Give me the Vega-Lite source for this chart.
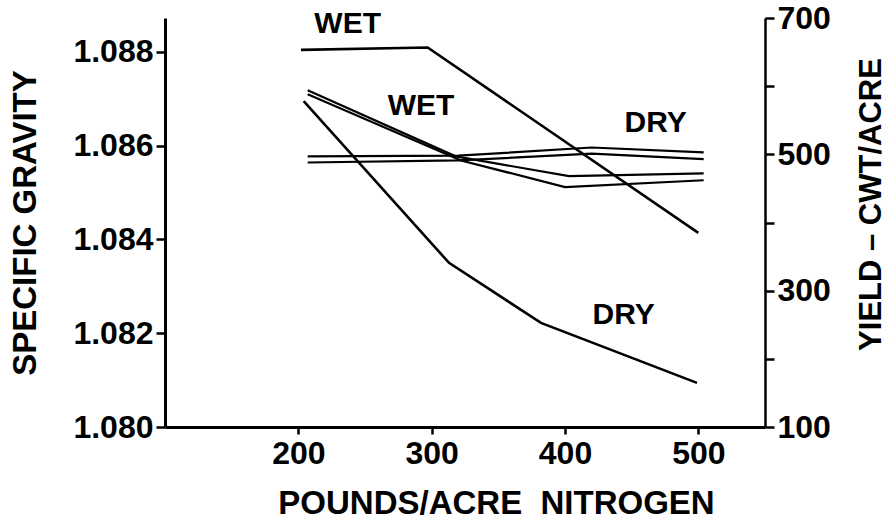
{
  "$schema": "https://vega.github.io/schema/vega-lite/v6.json",
  "width": 600,
  "height": 409,
  "autosize": {"type": "none"},
  "padding": {"left": 165, "top": 18, "right": 125, "bottom": 92},
  "background": "white",
  "config": {
    "view": {"stroke": null},
    "font": "Liberation Sans",
    "axis": {
      "grid": false,
      "domainColor": "black",
      "tickColor": "black",
      "labelColor": "black",
      "titleColor": "black",
      "labelFont": "Liberation Sans",
      "titleFont": "Liberation Sans",
      "labelFontWeight": "bold",
      "titleFontWeight": "bold",
      "domainWidth": 3,
      "tickWidth": 2.5,
      "tickSize": 8,
      "labelFontSize": 32
    }
  },
  "datasets": {
    "sg": [
      {"series": "SG WET", "n": 202, "v": 1.08804},
      {"series": "SG WET", "n": 297, "v": 1.08809},
      {"series": "SG WET", "n": 500, "v": 1.08414},
      {"series": "SG DRY", "n": 204, "v": 1.08695},
      {"series": "SG DRY", "n": 313, "v": 1.0835},
      {"series": "SG DRY", "n": 382, "v": 1.08222},
      {"series": "SG DRY", "n": 499, "v": 1.08094}
    ],
    "yield": [
      {"series": "WET a", "n": 207, "v": 594},
      {"series": "WET a", "n": 318, "v": 497},
      {"series": "WET a", "n": 403, "v": 468},
      {"series": "WET a", "n": 504, "v": 472},
      {"series": "WET b", "n": 207, "v": 588},
      {"series": "WET b", "n": 322, "v": 491},
      {"series": "WET b", "n": 400, "v": 452},
      {"series": "WET b", "n": 504, "v": 462},
      {"series": "DRY a", "n": 207, "v": 497},
      {"series": "DRY a", "n": 320, "v": 498},
      {"series": "DRY a", "n": 420, "v": 510},
      {"series": "DRY a", "n": 504, "v": 503},
      {"series": "DRY b", "n": 207, "v": 488},
      {"series": "DRY b", "n": 320, "v": 491},
      {"series": "DRY b", "n": 420, "v": 501},
      {"series": "DRY b", "n": 504, "v": 493}
    ],
    "labels": [
      {"text": "WET", "n": 237, "v": 1.0886},
      {"text": "WET", "n": 292, "v": 1.08685},
      {"text": "DRY", "n": 468, "v": 1.08649},
      {"text": "DRY", "n": 444, "v": 1.08239}
    ]
  },
  "layer": [
    {
      "layer": [
        {
          "data": {"name": "sg"},
          "mark": {"type": "line", "color": "black", "strokeWidth": 2.6},
          "encoding": {
            "x": {
              "field": "n", "type": "quantitative",
              "scale": {"domain": [100, 550], "nice": false, "zero": false},
              "axis": {
                "values": [200, 300, 400, 500],
                "title": "POUNDS/ACRE\u00a0\u00a0NITROGEN",
                "titleFontSize": 33,
                "titleX": 331,
                "titleY": 86,
                "titleBaseline": "alphabetic",
                "labelPadding": 4,
                "tickSize": 7,
                "labelFlush": false
              }
            },
            "y": {
              "field": "v", "type": "quantitative",
              "scale": {"domain": [1.08, 1.08872], "nice": false, "zero": false},
              "axis": {
                "orient": "left",
                "values": [1.08, 1.082, 1.084, 1.086, 1.088],
                "format": ".3f",
                "title": "SPECIFIC GRAVITY",
                "titleFontSize": 33,
                "titleX": -140,
                "titleAlign": "center",
                "titleBaseline": "middle",
                "labelPadding": 3,
                "labelFontSize": 32,
                "tickSize": 9
              }
            },
            "detail": {"field": "series"}
          }
        },
        {
          "data": {"name": "labels"},
          "mark": {"type": "text", "fontSize": 30, "color": "black", "font": "Liberation Sans", "fontWeight": "bold"},
          "encoding": {
            "x": {"field": "n", "type": "quantitative"},
            "y": {"field": "v", "type": "quantitative"},
            "text": {"field": "text"}
          }
        }
      ]
    },
    {
      "layer": [
        {
          "data": {"name": "yield"},
          "mark": {"type": "line", "color": "black", "strokeWidth": 2.2},
          "encoding": {
            "x": {"field": "n", "type": "quantitative"},
            "y": {
              "field": "v", "type": "quantitative",
              "scale": {"domain": [100, 700], "nice": false, "zero": false},
              "axis": {
                "orient": "right",
                "values": [100, 200, 300, 400, 500, 600, 700],
                "labelExpr": "datum.value % 200 == 100 ? datum.label : ''",
                "title": "YIELD – CWT/ACRE",
                "titleFontSize": 31,
                "titleAngle": 270,
                "titleX": 106,
                "titleY": 186,
                "titleAlign": "center",
                "titleBaseline": "middle",
                "labelPadding": 3,
                "labelFontSize": 32,
                "tickSize": 9,
                "domainWidth": 2.5
              }
            },
            "detail": {"field": "series"}
          }
        },
        {
          "mark": {"type": "rule", "color": "black", "strokeWidth": 2.5},
          "encoding": {"x": {"datum": 546}}
        }
      ]
    }
  ],
  "resolve": {"scale": {"y": "independent"}}
}
